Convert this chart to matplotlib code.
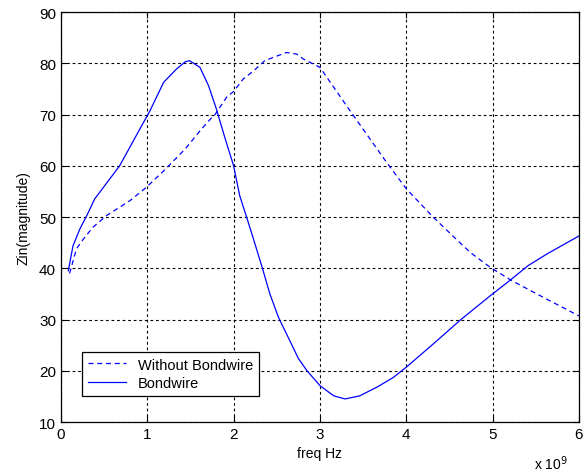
import matplotlib
matplotlib.use("Agg")
from matplotlib import pyplot as plt

plt.rcParams['font.family'] = ['Liberation Sans', 'DejaVu Sans']

# frecuencia en unidades de 1e9 Hz
f_sin = [0.1, 0.18, 0.26, 0.37, 0.53, 0.8, 0.99, 1.19, 1.44, 1.61, 1.73, 1.785, 1.92,
         2.0, 2.11, 2.23, 2.36, 2.61, 2.73, 2.81, 3.0, 3.35, 3.77, 4.0, 4.31, 4.57, 4.74,
         4.97, 5.22, 5.59, 6.0]
z_sin = [39.0, 43.8, 45.7, 48.0, 50.3, 53.2, 55.8, 59.0, 63.3, 66.8, 69.1, 70.0, 73.4,
         74.5, 76.9, 78.5, 80.5, 82.1, 81.8, 80.8, 79.2, 70.7, 60.7, 55.5, 50.0, 45.8, 43.1,
         40.2, 37.6, 34.3, 30.7]

f_bw = [0.085, 0.14, 0.22, 0.30, 0.39, 0.68, 0.915, 1.03, 1.19, 1.34, 1.44, 1.49, 1.61,
        1.71, 1.80, 1.90, 2.0, 2.07, 2.15, 2.23, 2.33, 2.42, 2.52, 2.65, 2.75, 2.85, 3.0,
        3.16, 3.29, 3.46, 3.66, 3.85, 4.0, 4.31, 4.64, 4.97, 5.22, 5.41, 5.63, 6.0]
z_bw = [39.5, 44.4, 47.7, 50.3, 53.5, 60.0, 67.2, 70.7, 76.3, 78.9, 80.3, 80.5, 79.2,
        75.6, 71.1, 65.4, 60.0, 54.2, 50.0, 45.7, 40.2, 35.0, 30.4, 25.9, 22.4, 20.0, 17.1,
        15.1, 14.5, 15.1, 16.8, 18.7, 20.7, 25.2, 30.1, 34.6, 37.9, 40.5, 42.8, 46.3]

fig = plt.figure(figsize=(5.86, 4.77), dpi=100)
ax = fig.add_axes([0.104, 0.1132, 0.884, 0.8595])

ax.plot(f_sin, z_sin, color='#0000ff', linestyle=(0, (4, 3)), linewidth=0.9, label='Without Bondwire')
ax.plot(f_bw, z_bw, color='#0000ff', linewidth=0.9, label='Bondwire')

ax.set_xlim(0, 6)
ax.set_ylim(10, 90)
ax.set_xticks(range(0, 7))
ax.set_yticks(range(10, 91, 10))
ax.grid(True, color='k', linestyle=(0, (2.5, 2.5)), linewidth=0.8)
ax.tick_params(direction='in', top=True, right=True, labelsize=11, length=4)
for s in ax.spines.values():
    s.set_linewidth(0.9)

ax.set_xlabel('freq Hz', fontsize=10, labelpad=4)
ax.set_ylabel('Zin(magnitude)', fontsize=10, labelpad=6)
ax.text(0.979, -0.1, r'x 10$^{9}$', transform=ax.transAxes, ha='right', va='center', fontsize=10)

leg = ax.legend(loc='lower left', bbox_to_anchor=(0.041, 0.064), fontsize=10.5,
                fancybox=False, framealpha=1, edgecolor='k', handlelength=2.6,
                borderaxespad=0, labelspacing=0.3)
leg.get_frame().set_linewidth(0.9)

fig.savefig('out.png', dpi=100)
